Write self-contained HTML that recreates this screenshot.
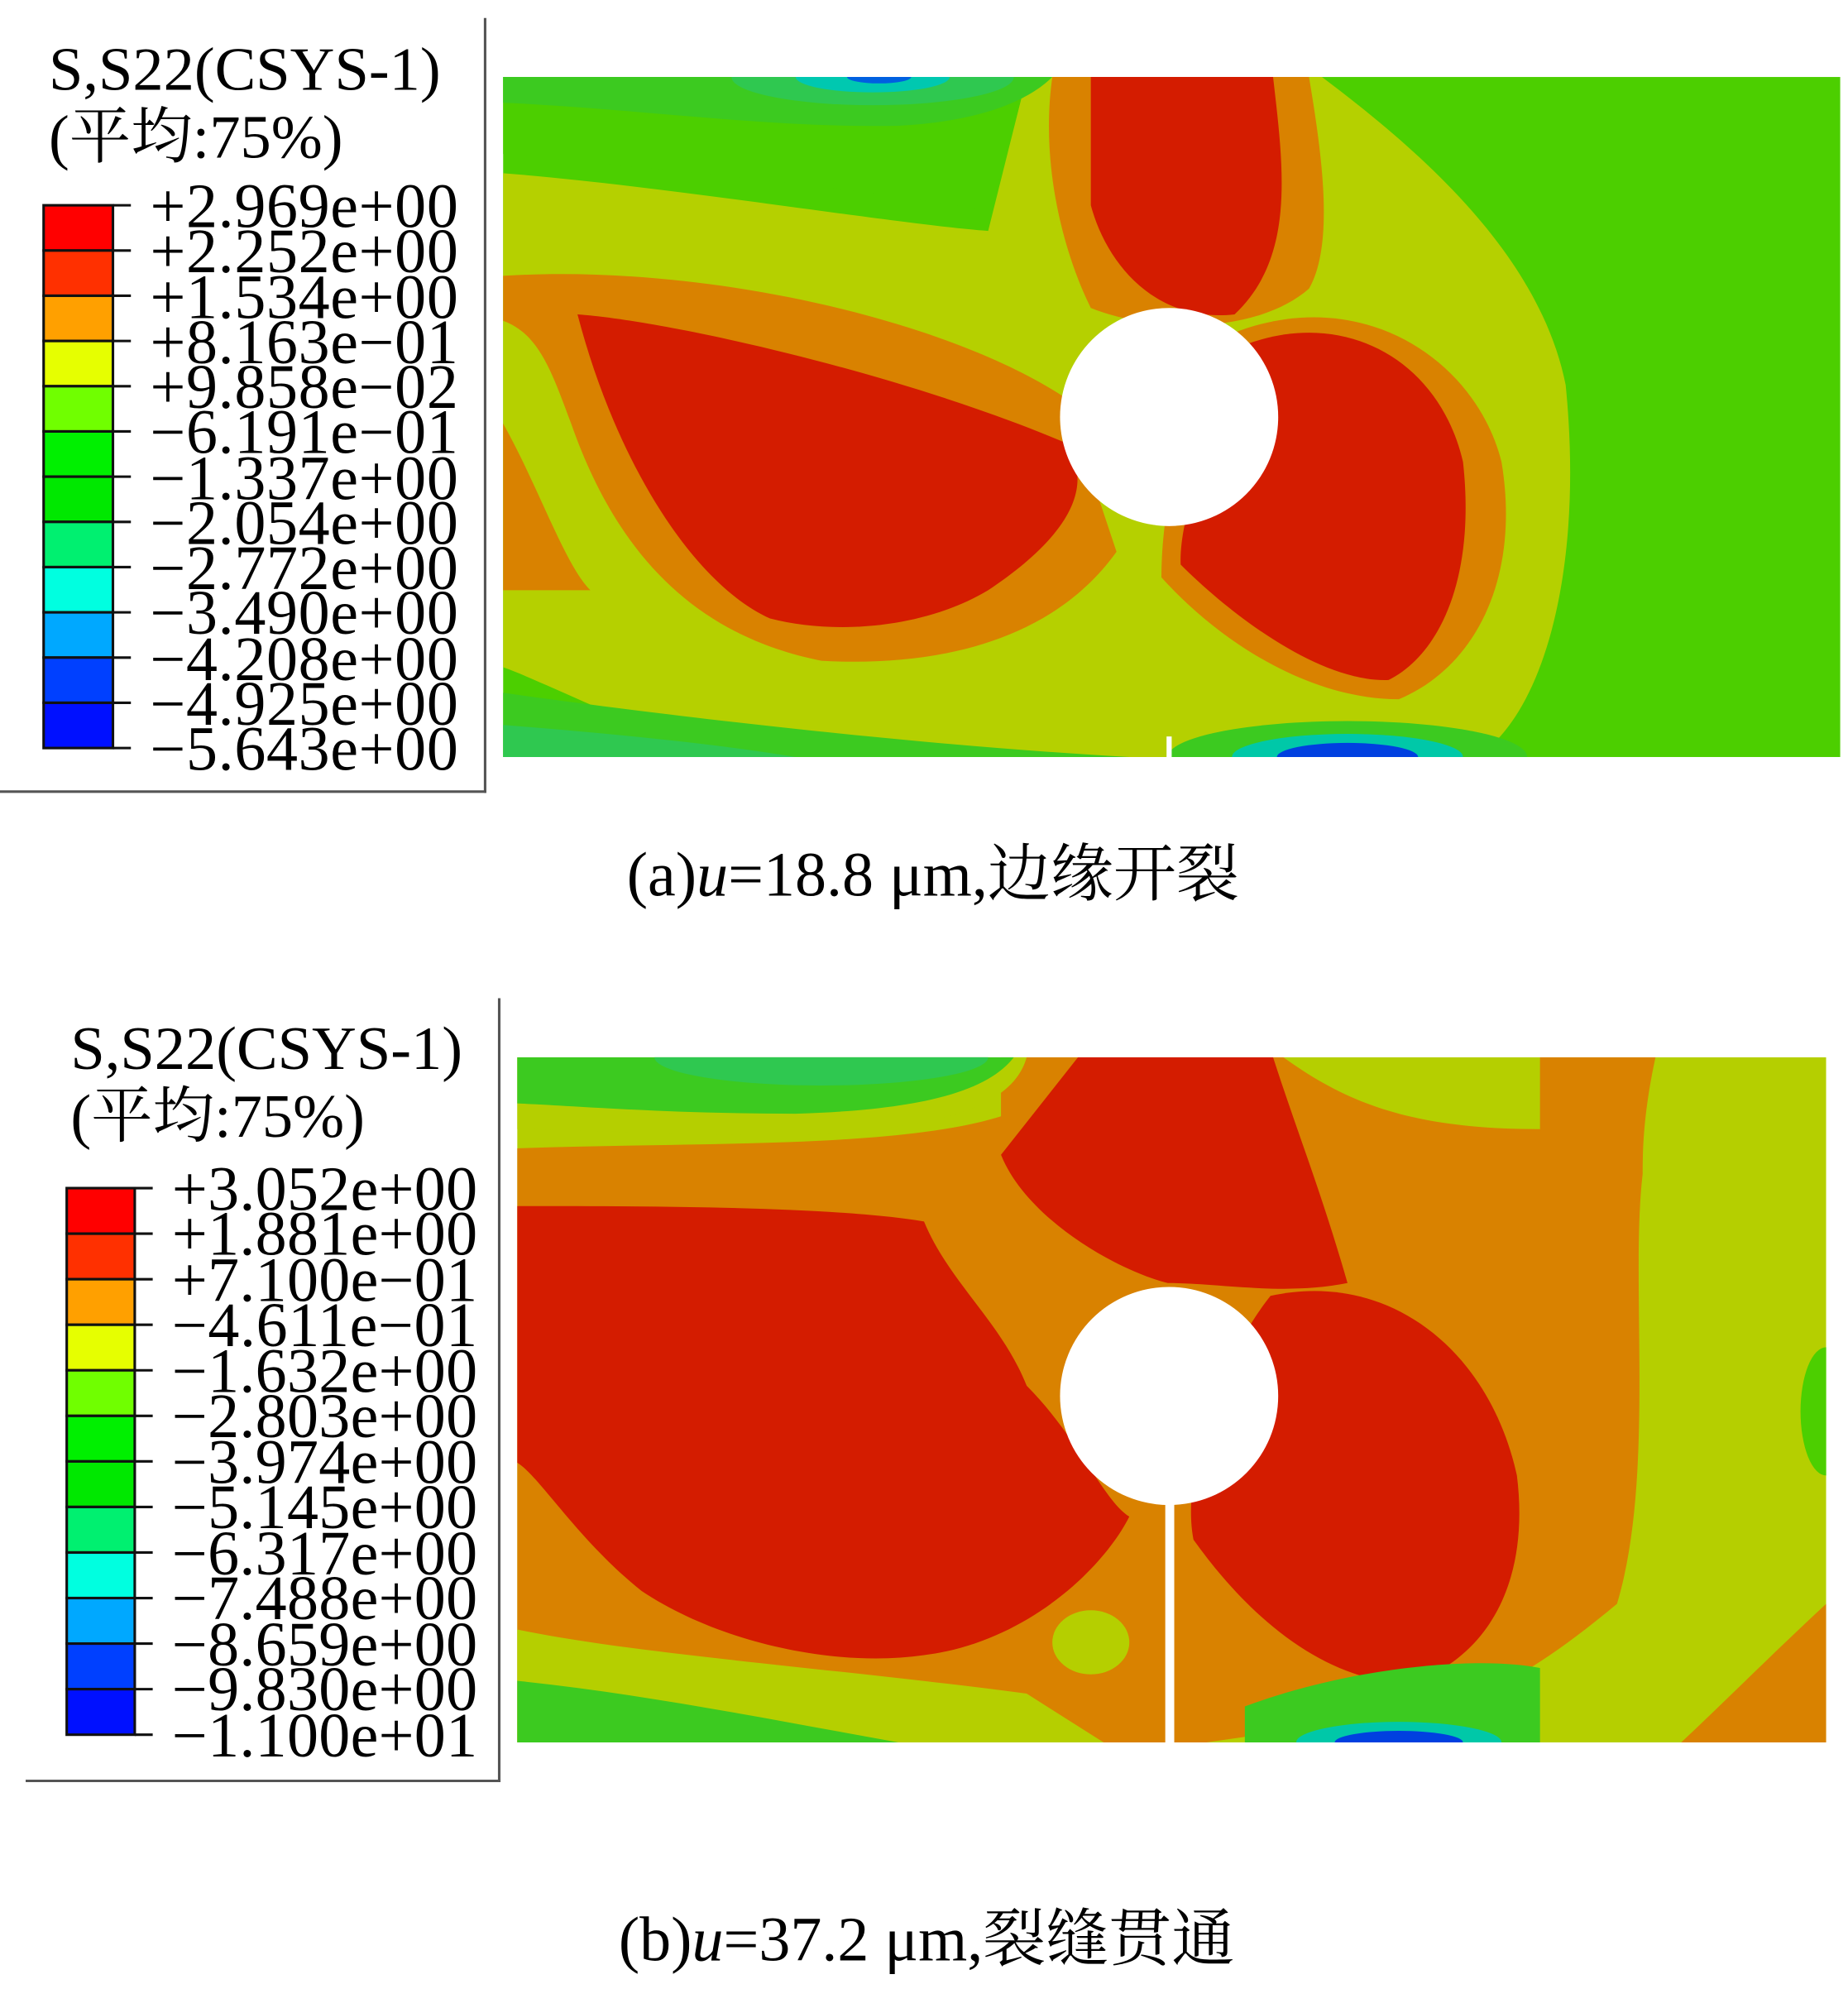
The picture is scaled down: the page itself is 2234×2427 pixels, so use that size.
<!DOCTYPE html>
<html><head><meta charset="utf-8"><style>html,body{margin:0;padding:0;background:#fff;}svg{display:block}</style></head>
<body>
<svg width="2234" height="2427" viewBox="0 0 1440 1565" preserveAspectRatio="none" xmlns="http://www.w3.org/2000/svg" font-family="Liberation Serif, Noto Serif CJK SC, serif">
<defs>
<clipPath id="ca"><rect x="392" y="60" width="1042" height="530"/></clipPath>
<clipPath id="cb"><rect x="403" y="824" width="1020" height="534"/></clipPath>
</defs>
<rect width="1440" height="1565" fill="#fff"/>
<!-- ===== Panel a plot ===== -->
<g clip-path="url(#ca)">
<rect x="392" y="60" width="1042" height="530" fill="#4ccf00"/>
<path d="M392,135 C520,145 700,175 770,180 L800,60 L1030,60 C1110,120 1200,200 1220,300 C1235,450 1200,560 1150,590 L560,590 C480,560 420,530 392,520 Z" fill="#b5d000"/>
<path d="M392,60 L800,60 C790,100 780,140 770,165 C700,150 550,135 392,120 Z" fill="#4ccf00"/>
<path d="M392,60 L820,60 C800,80 760,95 700,98 C600,100 500,85 392,80 Z" fill="#3cca20"/>
<ellipse cx="680" cy="60" rx="110" ry="22" fill="#2fc850"/>
<ellipse cx="680" cy="60" rx="60" ry="12" fill="#00c8b0"/>
<ellipse cx="685" cy="60" rx="25" ry="5" fill="#0060e0"/>
<path d="M392,215 C550,205 740,250 830,310 L870,430 C820,500 730,520 640,515 C540,495 480,430 445,330 C430,290 420,260 392,250 Z" fill="#d98200"/>
<path d="M392,330 C420,380 440,440 460,460 L392,460 Z" fill="#d98200"/>
<path d="M820,60 L1020,60 C1030,120 1040,190 1020,225 C980,260 900,260 850,240 C830,200 810,130 820,60 Z" fill="#d98200"/>
<path d="M960,260 C1060,220 1150,280 1170,360 C1185,450 1150,520 1090,545 C1020,545 950,500 905,450 C905,380 930,300 960,260 Z" fill="#d98200"/>
<path d="M450,245 C520,250 700,290 830,345 C855,380 830,420 770,460 C720,490 650,495 600,482 C540,455 480,360 450,245 Z" fill="#d41c00"/>
<path d="M850,60 L992,60 C1000,130 1010,200 962,245 C900,252 862,205 850,160 Z" fill="#d41c00"/>
<path d="M972,268 C1050,240 1122,282 1140,360 C1150,450 1122,510 1082,530 C1030,532 962,482 920,440 C918,400 950,320 972,268 Z" fill="#d41c00"/>
<path d="M392,540 C500,555 700,580 880,590 L392,590 Z" fill="#3cca20"/>
<path d="M392,565 C480,572 560,580 620,590 L392,590 Z" fill="#2fc850"/>
<ellipse cx="1050" cy="590" rx="140" ry="28" fill="#3cca20"/>
<ellipse cx="1050" cy="590" rx="90" ry="18" fill="#00c8a8"/>
<ellipse cx="1050" cy="590" rx="55" ry="11" fill="#0040e0"/>
<circle cx="911" cy="325" r="85" fill="#fff"/>
<rect x="909" y="574" width="4" height="18" fill="#fff"/>
</g>
<!-- ===== Panel a legend ===== -->
<line x1="378" y1="14" x2="378" y2="618" stroke="#555" stroke-width="2"/>
<line x1="0" y1="617" x2="379" y2="617" stroke="#555" stroke-width="2"/>
<text x="38" y="70" font-size="48">S,S22(CSYS-1)</text>
<text x="38" y="123" font-size="48">(平均:75%)</text>
<g stroke="#111" stroke-width="2">
<rect x="34" y="160" width="54" height="35.25" fill="#ff0000"/>
<rect x="34" y="195.25" width="54" height="35.25" fill="#ff3000"/>
<rect x="34" y="230.5" width="54" height="35.25" fill="#ffa000"/>
<rect x="34" y="265.75" width="54" height="35.25" fill="#e6ff00"/>
<rect x="34" y="301" width="54" height="35.25" fill="#70ff00"/>
<rect x="34" y="336.25" width="54" height="35.25" fill="#00f000"/>
<rect x="34" y="371.5" width="54" height="35.25" fill="#00e800"/>
<rect x="34" y="406.75" width="54" height="35.25" fill="#00f070"/>
<rect x="34" y="442" width="54" height="35.25" fill="#00ffe0"/>
<rect x="34" y="477.25" width="54" height="35.25" fill="#00a8ff"/>
<rect x="34" y="512.5" width="54" height="35.25" fill="#0040ff"/>
<rect x="34" y="547.75" width="54" height="35.25" fill="#0010ff"/>
<path d="M88,160h14M88,195.25h14M88,230.5h14M88,265.75h14M88,301h14M88,336.25h14M88,371.5h14M88,406.75h14M88,442h14M88,477.25h14M88,512.5h14M88,547.75h14M88,583h14" fill="none"/>
</g>
<g font-size="49">
<text x="117" y="177" textLength="240">+2.969e+00</text>
<text x="117" y="212" textLength="240">+2.252e+00</text>
<text x="117" y="248" textLength="240">+1.534e+00</text>
<text x="117" y="283" textLength="240">+8.163e−01</text>
<text x="117" y="318" textLength="240">+9.858e−02</text>
<text x="117" y="353" textLength="240">−6.191e−01</text>
<text x="117" y="389" textLength="240">−1.337e+00</text>
<text x="117" y="424" textLength="240">−2.054e+00</text>
<text x="117" y="459" textLength="240">−2.772e+00</text>
<text x="117" y="494" textLength="240">−3.490e+00</text>
<text x="117" y="530" textLength="240">−4.208e+00</text>
<text x="117" y="565" textLength="240">−4.925e+00</text>
<text x="117" y="600" textLength="240">−5.643e+00</text>
</g>
<text x="727" y="698" font-size="49" text-anchor="middle">(a)<tspan font-style="italic">u</tspan>=18.8 μm,边缘开裂</text>

<!-- ===== Panel b plot ===== -->
<g clip-path="url(#cb)">
<rect x="403" y="824" width="1020" height="534" fill="#b5cf00"/>
<path d="M780,824 L1000,824 C1050,860 1100,880 1200,880 L1200,824 L1290,824 C1280,870 1280,900 1280,915 C1270,1000 1290,1150 1260,1250 C1200,1300 1150,1330 1100,1335 L940,1358 L403,1358 L403,895 C550,890 700,895 780,870 Z" fill="#d98200"/>
<path d="M1423,1250 C1380,1290 1340,1330 1310,1358 L1423,1358 Z" fill="#d98200"/>
<path d="M403,824 L800,824 C790,860 740,880 620,885 C520,885 450,880 403,880 Z" fill="#b5cf00"/>
<path d="M403,824 L790,824 C770,850 720,865 620,868 C520,868 450,862 403,860 Z" fill="#3cca20"/>
<ellipse cx="640" cy="824" rx="130" ry="22" fill="#2fc850"/>
<path d="M403,940 C500,940 650,940 720,952 C740,1000 780,1030 800,1080 C840,1120 860,1170 880,1182 C860,1222 800,1280 720,1290 C650,1300 560,1280 500,1240 C450,1200 420,1150 403,1140 Z" fill="#d41c00"/>
<path d="M840,824 L992,824 C1010,880 1030,930 1050,1000 C1000,1010 950,1000 910,1000 C870,990 800,950 780,900 Z" fill="#d41c00"/>
<path d="M990,1010 C1080,990 1160,1050 1182,1150 C1192,1230 1162,1290 1100,1312 C1040,1312 980,1270 930,1200 C920,1150 950,1060 990,1010 Z" fill="#d41c00"/>
<path d="M403,1270 C500,1290 650,1300 800,1320 L860,1358 L403,1358 Z" fill="#b5cf00"/>
<path d="M403,1310 C500,1320 600,1340 700,1358 L403,1358 Z" fill="#3cca20"/>
<ellipse cx="850" cy="1280" rx="30" ry="25" fill="#b5cf00"/>
<path d="M970,1330 C1050,1300 1150,1290 1200,1300 L1200,1358 L970,1358 Z" fill="#3cca20"/>
<ellipse cx="1090" cy="1358" rx="80" ry="16" fill="#00c8a8"/>
<ellipse cx="1090" cy="1358" rx="50" ry="9" fill="#0040e0"/>
<ellipse cx="1423" cy="1100" rx="20" ry="50" fill="#4ccf00"/>
<circle cx="911" cy="1088" r="85" fill="#fff"/>
<rect x="908" y="1168" width="7" height="194" fill="#fff"/>
</g>
<!-- ===== Panel b legend ===== -->
<line x1="389" y1="778" x2="389" y2="1389" stroke="#555" stroke-width="2"/>
<line x1="20" y1="1388" x2="390" y2="1388" stroke="#555" stroke-width="2"/>
<text x="55" y="833" font-size="48">S,S22(CSYS-1)</text>
<text x="55" y="886" font-size="48">(平均:75%)</text>
<g stroke="#111" stroke-width="2">
<rect x="52" y="926" width="53" height="35.5" fill="#ff0000"/>
<rect x="52" y="961.5" width="53" height="35.5" fill="#ff3000"/>
<rect x="52" y="997" width="53" height="35.5" fill="#ffa000"/>
<rect x="52" y="1032.5" width="53" height="35.5" fill="#e6ff00"/>
<rect x="52" y="1068" width="53" height="35.5" fill="#70ff00"/>
<rect x="52" y="1103.5" width="53" height="35.5" fill="#00f000"/>
<rect x="52" y="1139" width="53" height="35.5" fill="#00e800"/>
<rect x="52" y="1174.5" width="53" height="35.5" fill="#00f070"/>
<rect x="52" y="1210" width="53" height="35.5" fill="#00ffe0"/>
<rect x="52" y="1245.5" width="53" height="35.5" fill="#00a8ff"/>
<rect x="52" y="1281" width="53" height="35.5" fill="#0040ff"/>
<rect x="52" y="1316.5" width="53" height="35.5" fill="#0010ff"/>
<path d="M105,926h14M105,961.5h14M105,997h14M105,1032.5h14M105,1068h14M105,1103.5h14M105,1139h14M105,1174.5h14M105,1210h14M105,1245.5h14M105,1281h14M105,1316.5h14M105,1352h14" fill="none"/>
</g>
<g font-size="49">
<text x="134" y="943" textLength="238">+3.052e+00</text>
<text x="134" y="978" textLength="238">+1.881e+00</text>
<text x="134" y="1014" textLength="238">+7.100e−01</text>
<text x="134" y="1049" textLength="238">−4.611e−01</text>
<text x="134" y="1085" textLength="238">−1.632e+00</text>
<text x="134" y="1120" textLength="238">−2.803e+00</text>
<text x="134" y="1156" textLength="238">−3.974e+00</text>
<text x="134" y="1191" textLength="238">−5.145e+00</text>
<text x="134" y="1227" textLength="238">−6.317e+00</text>
<text x="134" y="1262" textLength="238">−7.488e+00</text>
<text x="134" y="1298" textLength="238">−8.659e+00</text>
<text x="134" y="1333" textLength="238">−9.830e+00</text>
<text x="134" y="1369" textLength="238">−1.100e+01</text>
</g>
<text x="722" y="1528" font-size="49" text-anchor="middle">(b)<tspan font-style="italic">u</tspan>=37.2 μm,裂缝贯通</text>
</svg>
</body></html>
